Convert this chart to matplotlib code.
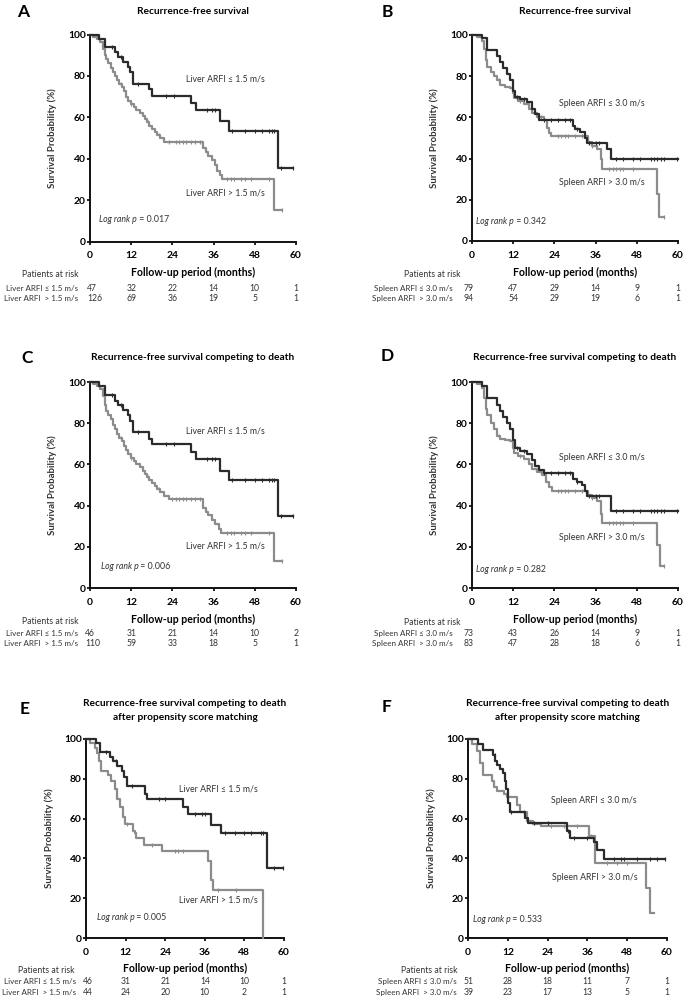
import matplotlib
matplotlib.use("Agg")
import matplotlib.pyplot as plt
import numpy as np
from matplotlib.transforms import blended_transform_factory

plt.rcParams["font.family"] = ["Lato", "DejaVu Sans"]

W, H = 685, 998
DARK = "#2b2b2b"
GRAY = "#8c8c8c"
TXT = "#333333"

MONTHS = [0, 12, 24, 36, 48, 60]

# ---- A: RFS, liver ARFI ----
A_le_t = [2.6, 4.5, 7.3, 8.2, 9.5, 11.0, 11.6, 12.4, 17.3, 18.0, 29.4, 31.0, 37.9, 40.4, 54.7]
A_le_s = [97.8, 93.8, 91.7, 89.3, 86.9, 84.5, 82.0, 76.0, 73.5, 70.3, 67.0, 63.5, 58.2, 53.5, 35.7]
A_le_end = 59.2
A_le_cens = [6.5, 9.0, 14.0, 22.0, 24.5, 34.0, 35.5, 36.5, 41.5, 45.0, 48.0, 50.0, 52.0, 53.0, 53.5, 55.5, 59.2]
A_gt_t = [1.0, 2.0, 3.0, 3.8, 4.3, 4.6, 5.3, 6.0, 6.6, 7.2, 7.8, 8.5, 9.2, 9.8, 10.4, 11.1, 11.8, 12.8, 13.5,
          14.5, 15.3, 16.0, 16.6, 17.3, 18.0, 18.8, 19.6, 20.4, 21.5, 33.0, 33.8, 34.5, 35.5, 36.3, 37.0, 37.8,
          38.4, 53.6]
A_gt_s = [99, 98, 96.5, 93, 90, 88, 86, 84, 82, 80, 78, 76, 74.5, 72.5, 70, 68, 66.5, 65, 63.5,
          62, 60.5, 59, 57.5, 56, 54.5, 53, 51.5, 50, 48.3, 45, 43, 41.5, 39.5, 37, 34, 32,
          30.3, 15.4]
A_gt_end = 55.8
A_gt_cens = [2.5, 9.0, 12.0, 17.0, 20.0, 23.0, 25.0, 26.0, 27.0, 28.0, 29.5, 30.5, 32.0, 40.0, 41.0, 42.0,
             44.0, 45.0, 47.0, 52.0, 55.8]
A_risk_le = [47, 32, 22, 14, 10, 1]
A_risk_gt = [126, 69, 36, 19, 5, 1]

# ---- B: RFS, spleen ARFI ----
B_le_t = [2.8, 4.5, 7.2, 8.2, 9.1, 10.1, 11.0, 12.0, 12.5, 14.0, 15.9, 17.4, 18.4, 19.4, 29.3, 30.0, 31.5,
          32.9, 33.6, 39.2, 40.6]
B_le_s = [98.5, 92.7, 90, 87, 84, 81, 78, 73, 70, 69, 67.5, 64, 61.5, 58.7, 56, 54.5, 53,
          50, 47.5, 44.5, 39.9]
B_le_end = 60.0
B_le_cens = [13, 15, 21, 23, 25, 27, 28.5, 30.5, 34, 36, 37, 42, 44, 47, 49, 52, 53, 54, 55, 56, 59.8]
B_gt_t = [1.5, 2.8, 3.5, 4.0, 4.5, 5.5, 6.5, 7.3, 8.2, 9.6, 11.0, 11.8, 12.3, 13.5, 15.0, 16.5, 17.5, 19.0,
          21.0, 21.8, 22.5, 23.0, 33.8, 35.0, 36.5, 37.5, 37.9, 53.8, 54.6]
B_gt_s = [99, 97, 93, 88, 84.7, 82, 80, 78, 75.7, 75, 74.5, 72, 69.5, 68, 66.5, 64, 62, 60,
          58.5, 55, 52.5, 50.9, 48, 46, 44.5, 40, 34.8, 23, 11.5]
B_gt_end = 56.0
B_gt_cens = [8, 14, 20, 25, 26, 27, 28, 30, 32, 35, 40, 41, 42, 43, 44, 47, 56]
B_risk_le = [79, 47, 29, 14, 9, 1]
B_risk_gt = [94, 54, 29, 19, 6, 1]

# ---- C: RFS competing to death, liver ----
C_le_t = [2.6, 4.5, 7.3, 8.2, 9.5, 11.0, 11.6, 12.4, 17.3, 18.0, 29.4, 31.0, 37.9, 40.4, 54.7]
C_le_s = [97.9, 93.5, 91, 89, 86.5, 84, 81, 75.6, 72.5, 69.8, 66, 62.4, 57, 52.4, 35.1]
C_le_end = 59.2
C_le_cens = [6.5, 9.0, 14.0, 22.0, 24.5, 34.0, 35.5, 36.5, 41.5, 45.0, 48.0, 50.0, 52.0, 53.0, 53.5, 55.5, 59.2]
C_gt_t = [1.0, 2.0, 3.0, 3.8, 4.3, 4.6, 5.3, 6.0, 6.6, 7.2, 7.8, 8.5, 9.2, 9.8, 10.4, 11.1, 11.8, 12.8, 13.5,
          14.5, 15.3, 16.0, 16.6, 17.3, 18.0, 18.8, 19.6, 20.4, 21.5, 23.0, 33.0, 33.8, 34.5, 35.5, 36.5, 37.5,
          38.3, 53.6]
C_gt_s = [99, 98, 96.5, 93, 89, 86, 84, 82, 79, 77, 75, 73, 71.5, 69, 67, 65, 63, 61.5, 60,
          58.5, 57, 55.5, 54, 52.5, 51, 49.5, 48, 46.5, 44.8, 43.3, 39, 37, 35.5, 33, 31, 28.5,
          26.5, 13]
C_gt_end = 55.8
C_gt_cens = [2.5, 9.0, 12.0, 17.0, 20.0, 24.0, 25.0, 26.0, 27.0, 28.0, 29.5, 30.5, 32.0, 40.0, 41.0, 42.0,
             44.0, 45.0, 47.0, 52.0, 55.8]
C_risk_le = [46, 31, 21, 14, 10, 2]
C_risk_gt = [110, 59, 33, 18, 5, 1]

# ---- D: RFS competing to death, spleen ----
D_le_t = [2.8, 4.5, 7.2, 8.2, 9.1, 10.1, 11.0, 12.0, 12.5, 14.0, 15.9, 17.4, 18.4, 19.4, 21.0, 29.3, 30.5,
          32.0, 33.0, 33.6, 40.6]
D_le_s = [98, 92.4, 89, 86, 83, 80, 77, 72, 68, 66.5, 65, 62, 59, 57.5, 56, 53, 51.5,
          50, 47, 44.5, 37.4]
D_le_end = 60.0
D_le_cens = [13, 15, 21, 23, 25, 27, 28.5, 30.5, 34, 36, 37, 42, 44, 47, 49, 52, 53, 54, 55, 56, 59.8]
D_gt_t = [1.5, 2.8, 3.5, 4.0, 4.5, 5.5, 6.5, 7.3, 8.2, 9.6, 11.0, 11.8, 12.3, 13.5, 15.0, 16.5, 17.5, 19.0,
          20.5, 21.5, 22.5, 23.2, 33.8, 35.0, 36.5, 37.5, 37.9, 53.8, 54.8]
D_gt_s = [99, 97, 92, 87, 84, 80, 77, 74, 72.5, 72, 71.5, 68, 65.5, 64, 62.5, 60, 58, 56.5,
          55, 51.5, 49, 47.2, 45, 43.5, 42, 36, 31.7, 21.1, 10.6]
D_gt_end = 56.0
D_gt_cens = [8, 14, 20, 25, 26, 27, 28, 30, 32, 35, 40, 41, 42, 43, 44, 47, 56]
D_risk_le = [73, 43, 26, 14, 9, 1]
D_risk_gt = [83, 47, 28, 18, 6, 1]

# ---- E: competing to death after PSM, liver ----
E_le_t = [2.9, 4.2, 7.3, 8.3, 9.5, 10.8, 11.5, 12.3, 17.9, 18.4, 29.5, 31.0, 38.0, 40.9, 54.9]
E_le_s = [97.8, 93.7, 91, 89, 86.5, 84, 81, 76.2, 72.5, 69.7, 66, 62.3, 57, 52.8, 35.3]
E_le_end = 59.6
E_le_cens = [6, 9, 14, 22, 24, 33, 35, 36, 42, 45, 48, 50, 53, 53.5, 57, 59.6]
E_gt_t = [1.2, 2.7, 3.4, 4.0, 4.4, 6.7, 7.7, 8.8, 9.5, 10.3, 11.3, 11.8, 14.3, 14.8, 15.3, 17.6, 22.9,
          36.9, 38.0, 38.6, 53.7]
E_gt_s = [97.8, 95.5, 93, 89, 84, 82, 79, 75, 70, 66, 61, 57.2, 54, 53, 50.2, 46.9, 43.6,
          38.7, 29, 24.3, 0]
E_gt_end = 53.7
E_gt_cens = [12.5, 20, 27, 28, 29.5, 40, 45.5]
E_risk_le = [46, 31, 21, 14, 10, 1]
E_risk_gt = [44, 24, 20, 10, 2, 1]

# ---- F: competing to death after PSM, spleen ----
F_le_t = [2.9, 4.6, 7.6, 8.1, 8.8, 9.6, 10.6, 11.1, 11.6, 12.1, 12.6, 17.2, 18.2, 29.8, 30.8, 38.0, 39.0, 41.0]
F_le_s = [97.5, 94.5, 92, 89, 87, 85, 83, 79, 75, 68, 63.5, 60.5, 57.8, 54, 50.3, 48, 44, 39.8]
F_le_end = 59.4
F_le_cens = [8, 13, 20, 24, 30, 32, 36, 44, 46, 47, 51, 55, 57, 59.4]
F_gt_t = [1.1, 2.6, 3.6, 4.4, 7.1, 7.8, 8.6, 10.8, 11.8, 14.7, 15.7, 17.7, 19.7, 22.0, 36.6, 38.3, 53.6, 54.8]
F_gt_s = [97.5, 94, 88, 82, 79, 76, 74, 72.5, 70.8, 67, 63.5, 58.8, 57.5, 56.5, 51.5, 37.8, 24.9, 12.6]
F_gt_end = 56.1
F_gt_cens = [17, 25, 29, 33, 37, 42, 45, 48]
F_risk_le = [51, 28, 18, 11, 7, 1]
F_risk_gt = [39, 23, 17, 13, 5, 1]

TITLE_RFS = ["Recurrence-free survival"]
TITLE_CMP = ["Recurrence-free survival competing to death"]
TITLE_PSM = ["Recurrence-free survival competing to death", "after propensity score matching"]
LIVER = ("Liver ARFI \u2264 1.5 m/s", "Liver ARFI > 1.5 m/s")
SPLEEN = ("Spleen ARFI \u2264 3.0 m/s", "Spleen ARFI > 3.0 m/s")
PVALS = ["0.017", "0.342", "0.006", "0.282", "0.005", "0.533"]

# layout in pixels: axes box, title rows, letter, x label row, risk table rows
PANELS = [
    dict(letter="A", title=TITLE_RFS, names=LIVER, p=PVALS[0],
         le=(A_le_t, A_le_s, A_le_end, A_le_cens), gt=(A_gt_t, A_gt_s, A_gt_end, A_gt_cens),
         risk=(A_risk_le, A_risk_gt), box=(90, 296, 34.5, 241.5), ty=[12], lxy=(23, 12), xly=272.7,
         ry=(274.3, 288.5, 298.7), lab_r=78, pat_r=78, first_x=87,
         lab_pos=((28, 78.5), (28, 23.4), (2.6, 10.4))),
    dict(letter="B", title=TITLE_RFS, names=SPLEEN, p=PVALS[1],
         le=(B_le_t, B_le_s, B_le_end, B_le_cens), gt=(B_gt_t, B_gt_s, B_gt_end, B_gt_cens),
         risk=(B_risk_le, B_risk_gt), box=(472, 678, 35, 241), ty=[12], lxy=(387, 12), xly=272.7,
         ry=(274.3, 288.5, 298.7), lab_r=453, pat_r=460.7, first_x=464,
         lab_pos=((25.2, 66.8), (25.4, 28.3), (1.2, 9.4))),
    dict(letter="C", title=TITLE_CMP, names=LIVER, p=PVALS[2],
         le=(C_le_t, C_le_s, C_le_end, C_le_cens), gt=(C_gt_t, C_gt_s, C_gt_end, C_gt_cens),
         risk=(C_risk_le, C_risk_gt), box=(90, 296, 382, 588), ty=[358], lxy=(27, 358), xly=619.3,
         ry=(621.7, 633.3, 643.5), lab_r=78, pat_r=78, first_x=85,
         lab_pos=((27.9, 76.3), (27.9, 20.4), (3.1, 10.3))),
    dict(letter="D", title=TITLE_CMP, names=SPLEEN, p=PVALS[3],
         le=(D_le_t, D_le_s, D_le_end, D_le_cens), gt=(D_gt_t, D_gt_s, D_gt_end, D_gt_cens),
         risk=(D_risk_le, D_risk_gt), box=(472, 678, 382, 588), ty=[358], lxy=(387, 356), xly=619.3,
         ry=(622.5, 633.3, 643.5), lab_r=453, pat_r=460.7, first_x=464,
         lab_pos=((25.2, 63.4), (25.4, 24.7), (1.2, 8.9))),
    dict(letter="E", title=TITLE_PSM, names=LIVER, p=PVALS[4],
         le=(E_le_t, E_le_s, E_le_end, E_le_cens), gt=(E_gt_t, E_gt_s, E_gt_end, E_gt_cens),
         risk=(E_risk_le, E_risk_gt), box=(86, 284, 739, 938), ty=[703, 717], lxy=(25, 709), xly=968.3,
         ry=(970.7, 981.7, 992.7), lab_r=76, pat_r=74, first_x=82.7,
         lab_pos=((28.2, 74.7), (28.2, 19.1), (3.2, 10.4))),
    dict(letter="F", title=TITLE_PSM, names=SPLEEN, p=PVALS[5],
         le=(F_le_t, F_le_s, F_le_end, F_le_cens), gt=(F_gt_t, F_gt_s, F_gt_end, F_gt_cens),
         risk=(F_risk_le, F_risk_gt), box=(468, 667, 739, 938), ty=[703, 717], lxy=(387, 707), xly=968.3,
         ry=(970.7, 981.7, 992.7), lab_r=457, pat_r=457, first_x=464,
         lab_pos=((25, 69), (25.3, 30.5), (1.4, 9.4))),
]


def fx(px):
    return px / W


def fy(py):
    return 1 - py / H


def km(ax, curve, color):
    times, surv, end, cens = curve
    t = np.r_[0, times, end]
    s = np.r_[100, surv, surv[-1]]
    ax.step(t, s, where="post", color=color, lw=1.6, clip_on=False, zorder=3)
    # censor marks sit on the curve at the censoring time
    idx = np.searchsorted(times, cens, side="right")
    cs = np.r_[100, surv][idx]
    ax.plot(cens, cs, ls="none", marker="|", ms=3.2, mew=0.8, color=color, clip_on=False, zorder=3)


fig = plt.figure(figsize=(W / 100, H / 100), dpi=100)

for pn in PANELS:
    x0, x60, y100, y0 = pn["box"]
    ax = fig.add_axes([fx(x0), fy(y0), (x60 - x0) / W, (y0 - y100) / H])
    km(ax, pn["gt"], GRAY)
    km(ax, pn["le"], DARK)
    ax.set_xlim(0, 60)
    ax.set_ylim(0, 100)
    ax.set_xticks(MONTHS)
    ax.set_yticks([0, 20, 40, 60, 80, 100])
    for side in ("top", "right"):
        ax.spines[side].set_visible(False)
    for side in ("left", "bottom"):
        ax.spines[side].set_linewidth(1.4)
        ax.spines[side].set_color("#111111")
    ax.tick_params(axis="both", direction="out", length=2.5, width=1.3, color="#111111")
    ax.tick_params(axis="x", pad=4.5)
    ax.tick_params(axis="y", pad=0.5)
    for lab in ax.get_xticklabels() + ax.get_yticklabels():
        lab.set_fontweight("bold")
        lab.set_fontsize(7.4)
    ax.set_ylabel("Survival Probability (%)", fontsize=6.9, fontweight="bold", color=TXT)
    ax.yaxis.set_label_coords(-0.16, 0.5)
    ax.set_xlabel("Follow-up period (months)", fontsize=7.6, fontweight="bold", va="center")
    ax.xaxis.set_label_coords(0.5, (y0 - pn["xly"]) / (y0 - y100))

    (lx1, ly1), (lx2, ly2), (px, py) = pn["lab_pos"]
    ax.text(lx1, ly1, pn["names"][0], fontsize=6.3, color=TXT, va="center")
    ax.text(lx2, ly2, pn["names"][1], fontsize=6.3, color=TXT, va="center")
    t1 = ax.text(px, py, "Log rank p", fontsize=6.3, style="italic", color=TXT, va="center")
    ax.annotate(" = " + pn["p"], xy=(1, 0.5), xycoords=t1, fontsize=6.3, color=TXT, va="center")

    for i, line in enumerate(pn["title"]):
        fig.text(fx((x0 + x60) / 2), fy(pn["ty"][i]), line, ha="center", va="center",
                 fontsize=7.3, fontweight="bold")
    fig.text(fx(pn["lxy"][0]), fy(pn["lxy"][1]), pn["letter"], ha="center", va="center",
             fontsize=12.5, fontweight="bold")

    # numbers at risk
    ry0, ry1, ry2 = pn["ry"]
    trans = blended_transform_factory(ax.transData, fig.transFigure)
    fig.text(fx(pn["pat_r"]), fy(ry0), "Patients at risk", ha="right", va="center", fontsize=6.2, color=TXT)
    row_names = [pn["names"][0], pn["names"][1].replace("ARFI >", "ARFI  >")]
    for name, counts, ry in zip(row_names, pn["risk"], (ry1, ry2)):
        fig.text(fx(pn["lab_r"]), fy(ry), name, ha="right", va="center", fontsize=5.8, color=TXT)
        fig.text(fx(pn["first_x"]), fy(ry), str(counts[0]), ha="left", va="center", fontsize=6.2, color=TXT)
        for m, n in zip(MONTHS[1:], counts[1:]):
            ax.text(m, fy(ry), str(n), transform=trans, ha="center", va="center", fontsize=6.2,
                    color=TXT, clip_on=False)

fig.savefig("out.png", dpi=100)
